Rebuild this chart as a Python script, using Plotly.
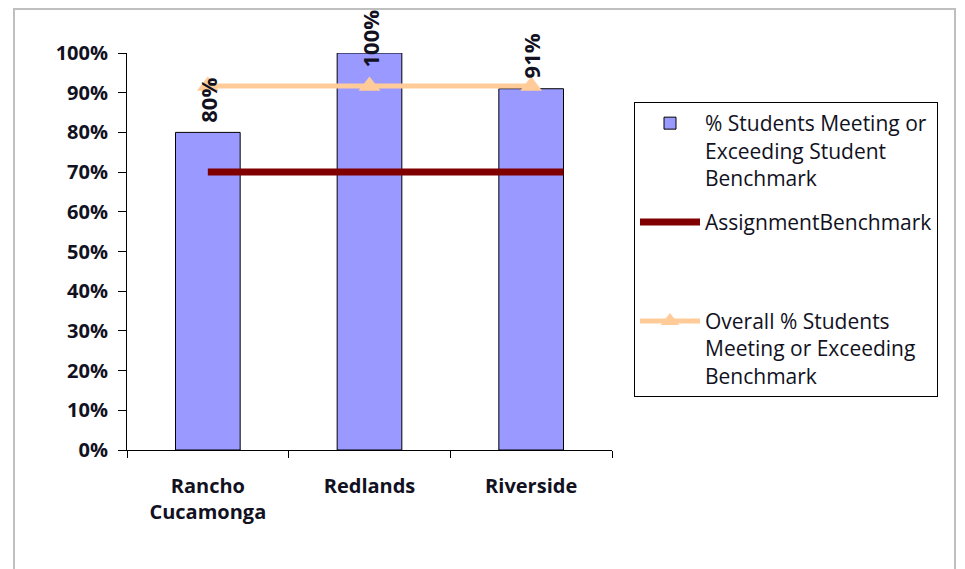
import plotly.graph_objects as go

# data
campuses = ["Rancho<br>Cucamonga", "Redlands", "Riverside"]
pct_meeting = [0.80, 1.00, 0.91]
benchmark = [0.70, 0.70]
overall_pct = [0.917, 0.917, 0.917]

bar_width = 0.4
font = "'Open Sans', Lato, Arial, sans-serif"
ink = "#111122"

# plot box in px (the page adds an 8px body margin)
left, top, plot_w, plot_h = 119, 45, 485, 397
label_size = 22
label_len = {3: 48, 4: 62}   # rough length of the rotated labels in px
label_gap = 8

fig = go.Figure()

fig.add_trace(go.Bar(
    x=campuses, y=pct_meeting, width=bar_width,
    name="% Students Meeting or<br>Exceeding Student<br>Benchmark",
    marker=dict(color="#9999FF", line=dict(color="#000000", width=1)),
    legendgroup="a",
))

# benchmark line runs on a hidden numeric axis: from first category centre
# to the right edge of the last bar
fig.add_trace(go.Scatter(
    x=[0, len(campuses) - 1 + bar_width / 2], y=benchmark,
    xaxis="x2", mode="lines", name="AssignmentBenchmark<br> <br> ",
    line=dict(color="#800000", width=7), legendgroup="b",
))

fig.add_trace(go.Scatter(
    x=campuses, y=overall_pct, mode="lines+markers",
    name="Overall % Students<br>Meeting or Exceeding<br>Benchmark",
    line=dict(color="#FFCC99", width=5),
    marker=dict(symbol="triangle-up", size=19, color="#FFCC99"),
    legendgroup="c",
))

# rotated value labels; pushed down when they would leave the chart frame
annotations = []
for cat, v in zip(campuses, pct_meeting):
    text = f"{v:.0%}"
    bar_top_px = top + (1 - v) * plot_h
    room = bar_top_px - label_len[len(text)]
    annotations.append(dict(
        x=cat, y=v, text=text, textangle=-90, showarrow=False,
        xanchor="center", yanchor="bottom", yshift=min(label_gap, room),
        font=dict(family=font, size=label_size, color=ink, weight="bold"),
    ))

fig.update_layout(
    width=965, height=569,
    margin=dict(l=left, r=965 - left - plot_w, t=top, b=569 - top - plot_h),
    paper_bgcolor="white", plot_bgcolor="white",
    font=dict(family=font, color=ink),
    showlegend=True,
    legend=dict(
        x=(634 - 8 - left) / plot_w, y=(top + plot_h - 94) / plot_h,
        xanchor="left", yanchor="top",
        bordercolor="#000000", borderwidth=1,
        font=dict(family=font, size=21, color=ink),
        traceorder="grouped", tracegroupgap=14, valign="top",
        itemwidth=60,
    ),
    xaxis=dict(
        type="category", showline=True, linecolor="#000000", linewidth=1,
        ticks="outside", ticklen=7, tickcolor="#000000", tickson="boundaries",
        showgrid=False, zeroline=False, ticklabelstandoff=18,
        tickfont=dict(family=font, size=20, color=ink, weight="bold"),
    ),
    xaxis2=dict(overlaying="x", range=[-0.5, 2.5], visible=False),
    yaxis=dict(
        range=[0, 1], dtick=0.1, tickformat=".0%",
        showline=True, linecolor="#000000", linewidth=1,
        ticks="outside", ticklen=8, tickcolor="#000000",
        showgrid=False, zeroline=False, ticklabelstandoff=6,
        tickfont=dict(family=font, size=20, color=ink, weight="bold"),
    ),
    annotations=annotations,
    shapes=[dict(
        type="rect", xref="paper", yref="paper",
        x0=(6 - left) / plot_w, x1=(947 - left) / plot_w,
        y0=-0.35, y1=(top + plot_h - 1) / plot_h,
        line=dict(color="#BFBFBF", width=2), layer="below",
    )],
)

fig.write_html("out.html")
